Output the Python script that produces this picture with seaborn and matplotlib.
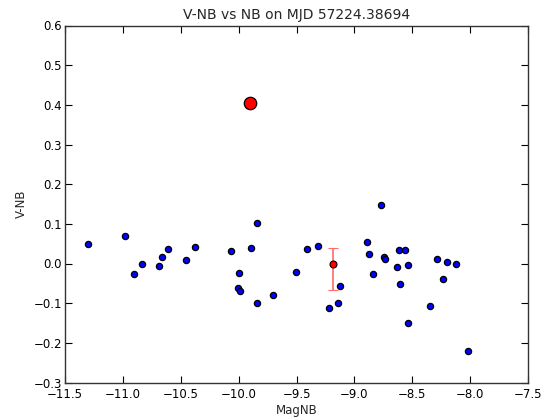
import matplotlib
matplotlib.use("Agg")
import matplotlib.pyplot as plt
import seaborn as sns
import pandas as pd

# Field stars: narrow-band magnitude and V-NB colour
mag_nb = [-11.304, -10.979, -10.906, -10.835, -10.685, -10.665, -10.610, -10.457,
          -10.380, -10.063, -10.000, -10.008, -9.991, -9.896, -9.837, -9.837,
          -9.706, -9.502, -9.412, -9.312, -9.124, -9.144, -9.222, -8.773,
          -8.887, -8.871, -8.747, -8.738, -8.837, -8.612, -8.563, -8.632,
          -8.539, -8.603, -8.534, -8.349, -8.289, -8.197, -8.232, -8.125,
          -8.021]
v_nb = [0.050, 0.070, -0.026, -0.001, -0.007, 0.016, 0.036, 0.010,
        0.042, 0.031, -0.025, -0.061, -0.069, 0.039, 0.102, -0.099,
        -0.079, -0.021, 0.036, 0.043, -0.056, -0.099, -0.113, 0.147,
        0.054, 0.023, 0.017, 0.011, -0.026, 0.035, 0.035, -0.009,
        -0.003, -0.052, -0.149, -0.106, 0.012, 0.004, -0.038, -0.002,
        -0.220]

# Mean of the field with its spread
mean_mag = [-9.182]
mean_col = [-0.001]
err_low = [0.065]
err_high = [0.039]

# Target
target_mag = [-9.902]
target_col = [0.405]

title = "V-NB vs NB on MJD 57224.38694"

sns.set_style("ticks")
plt.rcParams["font.family"] = ["DejaVu Sans"]

fig = plt.figure(figsize=(5.47, 4.17), dpi=100)
ax = fig.add_axes([65 / 547, 1 - 382.5 / 417, 463 / 547, 357 / 417])

df = pd.DataFrame({"MagNB": mag_nb, "V-NB": v_nb})
sns.scatterplot(data=df, x="MagNB", y="V-NB", ax=ax, color="#0000ff",
                edgecolor="black", linewidth=0.9, s=20, zorder=3)

ax.errorbar(mean_mag, mean_col, yerr=[err_low, err_high], fmt="o",
            color="red", ecolor="#ff6b6b", elinewidth=1.2, capsize=3.5,
            capthick=1.2, markersize=5, markeredgecolor="black",
            markeredgewidth=0.8, zorder=4)

sns.scatterplot(x=target_mag, y=target_col, ax=ax, color="red",
                edgecolor="black", linewidth=0.9, s=80, zorder=5)

ax.set_xlim(-11.5, -7.5)
ax.set_ylim(-0.3, 0.6)
ax.set_xticks([-11.5, -11.0, -10.5, -10.0, -9.5, -9.0, -8.5, -8.0, -7.5])
ax.set_yticks([-0.3, -0.2, -0.1, 0.0, 0.1, 0.2, 0.3, 0.4, 0.5, 0.6])
ax.set_xticklabels(["\u221211.5", "\u221211.0", "\u221210.5", "\u221210.0",
                    "\u22129.5", "\u22129.0", "\u22128.5", "\u22128.0", "\u22127.5"])
ax.set_yticklabels(["\u22120.3", "\u22120.2", "\u22120.1", "0.0", "0.1",
                    "0.2", "0.3", "0.4", "0.5", "0.6"])
ax.tick_params(direction="in", top=True, right=True, length=5, width=0.8,
               labelsize=8.5, colors="black")
ax.tick_params(axis="x", pad=4)
ax.tick_params(axis="y", pad=2)
for sp in ax.spines.values():
    sp.set_visible(True)
    sp.set_color("#333333")
    sp.set_linewidth(1.0)

ax.set_xlabel("MagNB", fontsize=8.5, labelpad=2)
ax.set_ylabel("V-NB", fontsize=8.5, labelpad=4)
ax.set_title(title, fontsize=10, pad=5)

fig.savefig("out.png", dpi=100)
